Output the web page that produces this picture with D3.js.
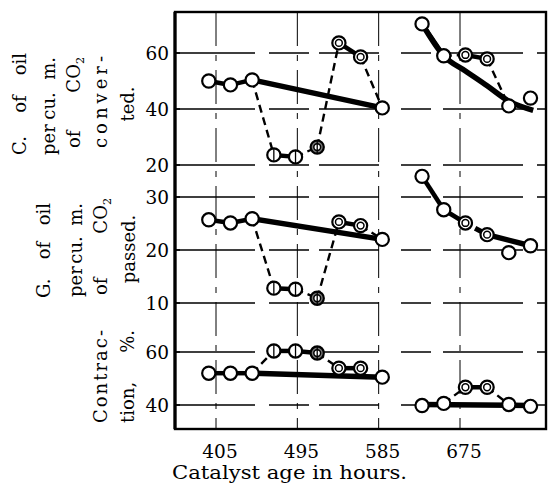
<!DOCTYPE html>
<html><head><meta charset="utf-8">
<script src="https://cdn.jsdelivr.net/npm/d3@7"></script>
<style>body{margin:0;background:#fff} svg{display:block}</style>
</head><body><svg id="c" width="548" height="488"></svg>
<script>
// ---------- data ----------
const hoursA = [397,421,445,469,493,517,541,565,589];
const hoursB = [633,657,681,705,729,753];
const markersA = ["open","open","open","bar","bar","ringbar","ring","ring","open"];
const markersB = ["open","open","ring","ring","open","open"];
const xTicks = [405,495,585,675];

const convertedA = [50.0,48.6,50.4,23.6,22.9,26.4,63.6,58.6,40.4];
const convertedB = [70.4,59.0,59.3,57.9,41.1,43.9];
const passedA = [25.7,25.1,25.9,12.8,12.6,10.9,25.3,24.6,22.0];
const passedB = [33.9,27.6,25.1,22.9,19.5,20.8];
const contractionA = [52.0,52.0,52.0,60.4,60.4,59.6,53.9,53.9,50.5];
const contractionB = [39.8,40.6,46.7,46.7,40.2,39.5];

const linksConvA = ["thick","thick","dash","thick","dash","dash","thick","dash"];
const linksConvB = ["thick","dash","thick","dash","none"];
const linksPassA = ["thick","thick","dash","thick","dash","dash","thick","dash"];
const linksPassB = ["thick","thick","thickdash","none","none"];
const linksContA = ["thick","thick","dash","thick","thick","dash","thick","none"];
const linksContB = ["thick","dash","thick","dash","thick"];

const trendConvA = [[445,50.4],[589,40.4]];
const trendConvB = [[633,70.4],[657,59.0],[681,53.6],[705,48.3],[729,42.8],[756,39.5]];
const trendPassA = [[445,25.9],[589,22.0]];
const trendPassB = [[705,22.9],[753,20.8]];
const trendContA = [[445,52.0],[589,50.5]];
const trendContB = [[633,40.2],[753,39.8]];

const ticksConv = [20,40,60];
const ticksPass = [10,20,30];
const ticksCont = [40,60];

// ---------- drawing ----------
const svg = d3.select("#c");
const FONT = "'DejaVu Serif','Liberation Serif',serif";
const L = 175, R = 546, T = 12, B = 429;
const x = d3.scaleLinear().domain([405,675]).range([216,460]);

const panels = [
  {y: d3.scaleLinear().domain([20,60]).range([165,53]), ticks: ticksConv,
   A: convertedA, Bv: convertedB, lA: linksConvA, lB: linksConvB, tr: [trendConvA, trendConvB]},
  {y: d3.scaleLinear().domain([10,30]).range([303,197]), ticks: ticksPass,
   A: passedA, Bv: passedB, lA: linksPassA, lB: linksPassB, tr: [trendPassA, trendPassB]},
  {y: d3.scaleLinear().domain([40,60]).range([405,352]), ticks: ticksCont,
   A: contractionA, Bv: contractionB, lA: linksContA, lB: linksContB, tr: [trendContA, trendContB]}
];

const grid = svg.append("g");
grid.selectAll("line.v").data(xTicks).join("line")
  .attr("x1", d => x(d)).attr("x2", d => x(d)).attr("y1", T).attr("y2", B)
  .attr("stroke", "#000").attr("stroke-width", 1)
  .attr("stroke-dasharray", "34,9,6,9");

panels.forEach(p => {
  grid.selectAll(null).data(p.ticks).join("line")
    .attr("x1", L).attr("x2", R).attr("y1", d => p.y(d)).attr("y2", d => p.y(d))
    .attr("stroke", "#000").attr("stroke-width", 1.3)
    .attr("stroke-dasharray", "80,14,40,10,60,22,30,12");
  svg.selectAll(null).data(p.ticks).join("text")
    .attr("x", 169).attr("y", d => p.y(d)).attr("dy", "0.36em")
    .attr("text-anchor", "end").attr("font-family", FONT).attr("font-size", 18.5)
    .text(d => d);
  svg.selectAll(null).data(p.ticks).join("line")
    .attr("x1", L).attr("x2", L + 5).attr("y1", d => p.y(d)).attr("y2", d => p.y(d))
    .attr("stroke", "#000").attr("stroke-width", 1.5);
});

const curve = (p) => d3.line().x(d => x(d[0])).y(d => p.y(d[1])).curve(d3.curveMonotoneX);

panels.forEach(p => {
  const g = svg.append("g");
  p.tr.forEach(t => {
    g.append("path").attr("d", curve(p)(t)).attr("fill", "none")
      .attr("stroke", "#000").attr("stroke-width", 5.5).attr("stroke-linecap", "butt");
  });
  [[hoursA, p.A, p.lA], [hoursB, p.Bv, p.lB]].forEach(([hs, vs, ls]) => {
    ls.forEach((s, i) => {
      if (s === "none") return;
      const ln = g.append("line")
        .attr("x1", x(hs[i])).attr("y1", p.y(vs[i]))
        .attr("x2", x(hs[i+1])).attr("y2", p.y(vs[i+1]))
        .attr("stroke", "#000");
      if (s === "thick") ln.attr("stroke-width", 4.5);
      else if (s === "thickdash") ln.attr("stroke-width", 5).attr("stroke-dasharray", "7,4");
      else ln.attr("stroke-width", 2.4).attr("stroke-dasharray", "8,5");
    });
  });
  [[hoursA, p.A, markersA], [hoursB, p.Bv, markersB]].forEach(([hs, vs, ms]) => {
    hs.forEach((h, i) => {
      const cx = x(h), cy = p.y(vs[i]), m = ms[i];
      const mg = g.append("g").attr("transform", `translate(${cx},${cy})`);
      mg.append("circle").attr("r", 6.6)
        .attr("fill", m === "ringbar" ? "#777" : "#fff")
        .attr("stroke", "#000").attr("stroke-width", 2.2);
      if (m === "ring" || m === "ringbar")
        mg.append("circle").attr("r", 3.4).attr("fill", "#fff")
          .attr("stroke", "#000").attr("stroke-width", 1.5);
      if (m === "bar" || m === "ringbar")
        mg.append("line").attr("x1", 0).attr("x2", 0).attr("y1", -6.5).attr("y2", 6.5)
          .attr("stroke", "#000").attr("stroke-width", 1.3);
    });
  });
});

svg.append("rect").attr("x", L).attr("y", T).attr("width", R - L).attr("height", B - T)
  .attr("fill", "none").attr("stroke", "#000").attr("stroke-width", 2.4);
svg.append("line").attr("x1", L).attr("x2", L).attr("y1", T).attr("y2", B)
  .attr("stroke", "#000").attr("stroke-width", 3.2);

svg.selectAll(null).data(xTicks).join("text")
  .attr("x", d => x(d) + 4).attr("y", 458).attr("text-anchor", "middle")
  .attr("font-family", FONT).attr("font-size", 18.5).text(d => d);
svg.append("text").attr("x", 172).attr("y", 479)
  .attr("font-family", FONT).attr("font-size", 19).attr("textLength", 235)
  .attr("lengthAdjust", "spacingAndGlyphs")
  .text("Catalyst age in hours.");

function col(xc, yBot, yTop, words, opts = {}) {
  const len = yBot - yTop;
  const fs = opts.fs || 18;
  const g = svg.append("g").attr("transform", `translate(${xc + 6.5},${yBot}) rotate(-90)`);
  const add = (t, px, anchor) => {
    const te = g.append("text").attr("x", px).attr("y", 0).attr("text-anchor", anchor)
      .attr("font-family", FONT).attr("font-size", fs);
    if (t === "CO2") {
      te.append("tspan").text("CO");
      te.append("tspan").attr("font-size", fs * 0.62).attr("dy", 4).text("2");
    } else te.text(t);
    return te;
  };
  if (opts.center) { add(words.join(" "), len / 2, "middle"); return; }
  if (opts.spread) {
    g.append("text").attr("x", 0).attr("font-family", FONT).attr("font-size", fs)
      .attr("textLength", len).attr("lengthAdjust", "spacing").text(words[0]);
    return;
  }
  words.forEach((w, i) => {
    if (i === 0) add(w, 0, "start");
    else if (i === words.length - 1) add(w, len, "end");
    else add(w, len * i / (words.length - 1), "middle");
  });
}
col(19, 155, 53, ["C.", "of", "oil"]);
col(48, 155, 57, ["per", "cu.", "m."]);
col(73, 148, 57, ["of", "CO2"]);
col(100, 148, 56, ["conver-"], {spread: true});
col(127, 122, 86, ["ted."], {center: true});
col(43, 298, 203, ["G.", "of", "oil"]);
col(75, 297, 203, ["per", "cu.", "m."]);
col(100, 295, 198, ["of", "CO2"]);
col(128, 283, 215, ["passed."], {center: true});
col(100, 423, 330, ["Contrac-"], {spread: true});
col(127, 423, 330, ["tion,", "%."]);
</script></body></html>
